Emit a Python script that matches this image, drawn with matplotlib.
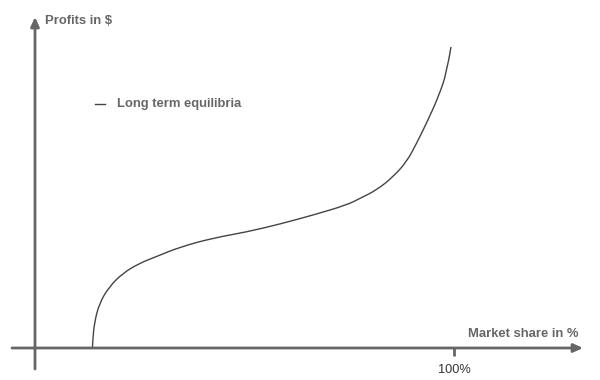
import matplotlib
matplotlib.use("Agg")
import matplotlib.pyplot as plt
from matplotlib.path import Path
from matplotlib.patches import PathPatch

# Data (market share in %, profits in arbitrary units)
share = [13.7, 13.8, 14.15, 15.35, 17.73, 20.93, 24.9, 28.9, 34.6, 42.55, 50.5,
         58.5, 66.4, 74.4, 77.6, 81.55, 85.5, 88.7, 91.0, 93.8, 96.25, 98.26, 99.28]
profit = [0, 8, 24.7, 44.7, 61.3, 74.7, 84.7, 91.3, 101, 110, 116,
          124, 133, 143, 149.7, 158, 171.3, 186.3, 204, 228, 251, 275, 301]
series_label = "Long term equilibria"
x_label = "Market share in %"
y_label = "Profits in $"
x_tick_value = 100
x_tick_label = "100%"

GRAY = "#666666"
LINE = "#444444"
plt.rcParams['font.family'] = ['Liberation Sans', 'DejaVu Sans']

fig = plt.figure(figsize=(6, 3.8), dpi=100)
ax = fig.add_axes([0, 0, 1, 1])
ax.axis('off')
px = 4.19  # pixels per % unit
ax.set_xlim(-35 / px, 565 / px)
ax.set_ylim(-32, 348)

# axes with arrows
astyle = '-|>,head_length=0.55,head_width=0.25'
ax.annotate('', xy=(548 / px, 0), xytext=(-23 / px, 0),
            arrowprops=dict(arrowstyle=astyle, color=GRAY, lw=2,
                            shrinkA=0, shrinkB=0))
ax.annotate('', xy=(0, 331), xytext=(0, -21),
            arrowprops=dict(arrowstyle=astyle, color=GRAY, lw=2,
                            shrinkA=0, shrinkB=0))
# tick
ax.plot([x_tick_value, x_tick_value], [0, -7.5], color=GRAY, lw=2,
        solid_capstyle='butt')
ax.text(x_tick_value, -22, x_tick_label, ha='center', va='center',
        fontsize=9.2, color='#333333')

ax.text(10 / px, 327, y_label, ha='left', va='center', fontsize=9.4,
        fontweight='bold', color=GRAY)
ax.text(544 / px, 14, x_label, ha='right', va='center', fontsize=9.4,
        fontweight='bold', color=GRAY)

# smooth curve: quadratic Bezier through midpoints of the read points
pts = list(zip(share, profit))
verts = [pts[0]]
codes = [Path.MOVETO]
for i in range(1, len(pts) - 1):
    mid = ((pts[i][0] + pts[i + 1][0]) / 2, (pts[i][1] + pts[i + 1][1]) / 2)
    if i == len(pts) - 2:
        mid = pts[-1]
    verts += [pts[i], mid]
    codes += [Path.CURVE3, Path.CURVE3]
ax.add_patch(PathPatch(Path(verts, codes), facecolor='none',
                       edgecolor=LINE, lw=1.0))

# legend-like entry
ax.plot([60 / px, 70 / px], [244, 244], color=LINE, lw=1.0)
ax.text(82 / px, 244, series_label, ha='left', va='center', fontsize=9.4,
        fontweight='bold', color=GRAY)

fig.savefig("out.png", dpi=100)
